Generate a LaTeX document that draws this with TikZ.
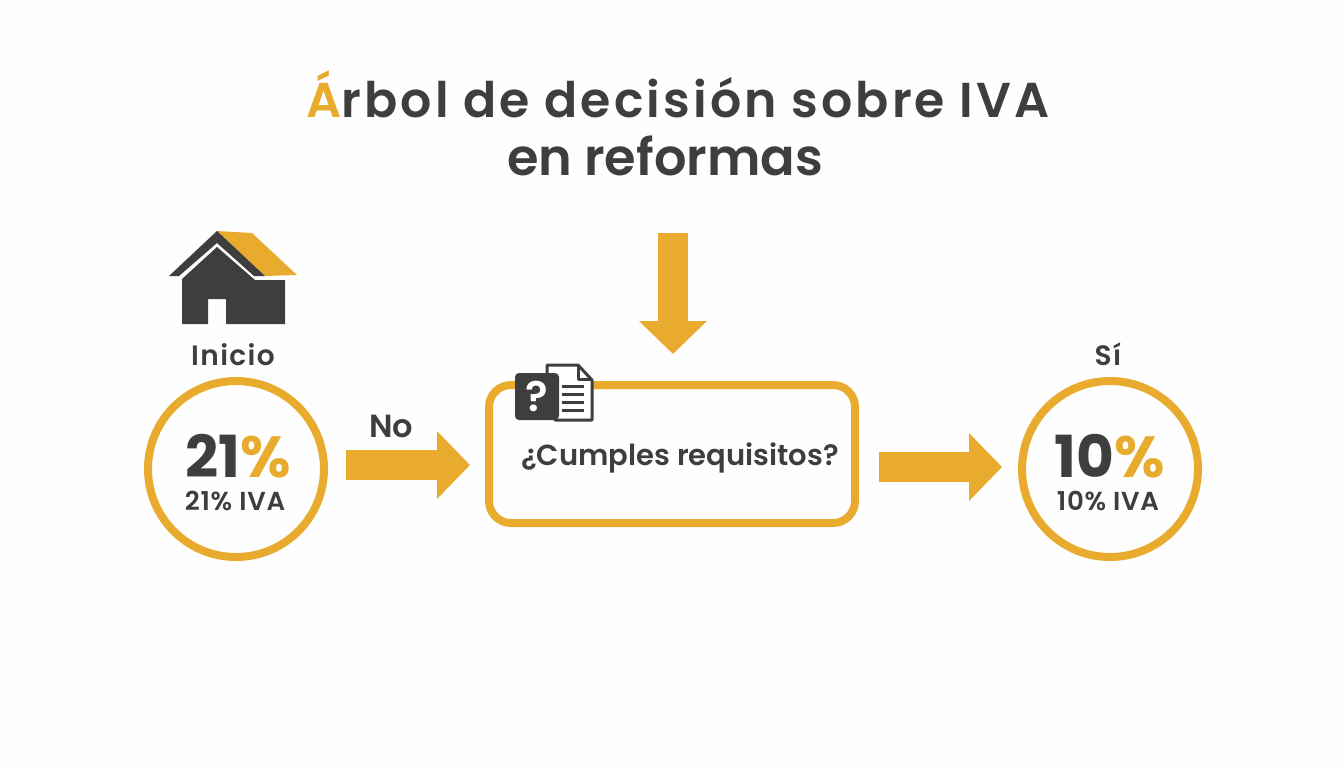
\documentclass[tikz,border=0pt]{standalone}
\usepackage{fontspec}
\setmainfont{Poppins}[BoldFont={Poppins SemiBold}]
\newfontfamily\heavyfont{Poppins Bold}
\usetikzlibrary{arrows.meta}
\definecolor{ivaorange}{HTML}{E8AB2E}
\definecolor{ivadark}{HTML}{3F3E3E}
\definecolor{ivapaper}{HTML}{FEFEFE}
\tikzset{
  x=0.5pt,y=-0.5pt,
  label/.style={text=ivadark,font=\bfseries\fontsize{#1}{#1}\selectfont,anchor=base,inner sep=0pt,text depth=0pt},
  ring/.style={circle,draw=ivaorange,line width=4pt,minimum size=88pt,inner sep=0pt},
  blockarrow/.style={draw=ivaorange,line width=15pt,-{Triangle[length=16.5pt,width=33pt,fill=ivaorange]}},
}
\newcommand{\spaced}[1]{\addfontfeatures{LetterSpace=#1}}
\begin{document}
\begin{tikzpicture}
  \useasboundingbox[fill=ivapaper] (0,0) rectangle (1344,768);
  \node[label=24.5] (title1) at (678,117) {\spaced{6.3}\textcolor{ivaorange}{Á}rbol de decisión sobre IVA};
  \node[label=25.5] (title2) at (665,175) {en reformas};
  % house
  \fill[ivaorange] (217,231) -- (252,233) -- (297,275) -- (265,276) -- cycle;
  \fill[ivadark] (217,231) -- (169,276) -- (179,276) -- (217,243) -- (254,276) -- (265,276) -- cycle;
  \fill[ivadark] (217,247) -- (182,279) -- (182,324) -- (208,324) -- (208,299) -- (226,299)
    -- (226,324) -- (285,324) -- (285,280) -- (255,280) -- cycle;
  \node[label=14] (inicio) at (233,365) {\spaced{5}Inicio};
  \node[label=14] (si) at (1108,365) {\spaced{5}Sí};
  \node[ring] (circ21) at (236,469) {};
  \node[ring] (circ10) at (1110,469) {};
  \node[label=29] (big21) at (238,477) {\mdseries\heavyfont 21\textcolor{ivaorange}{\%}};
  \node[label=29] (big10) at (1110,477) {\mdseries\heavyfont 10\textcolor{ivaorange}{\%}};
  \node[label=13] (iva21) at (235,510) {\spaced{3}21\% IVA};
  \node[label=13] (iva10) at (1108,510) {\spaced{3}10\% IVA};
  \node[draw=ivaorange,line width=4pt,rounded corners=11pt,minimum width=183pt,minimum height=69pt,inner sep=0pt] (box) at (672,454) {};
  \node[label=14.5] (pregunta) at (680,465) {¿Cumples requisitos?};
  % document icon
  \filldraw[draw=ivadark,fill=white,line width=1.5pt,line join=round] (547,372) -- (547,365) -- (578,365) -- (592,380) -- (592,420) -- (555,420) -- cycle;
  \draw[ivadark,line width=1.5pt,line join=round] (578,365) -- (578,379) -- (592,379);
  \foreach \y in {386,394,402,410}
    \draw[ivadark,line width=1.5pt] (562,\y) -- (584,\y);
  \node[fill=ivadark,rounded corners=2pt,minimum width=22pt,minimum height=23.5pt,inner sep=0pt,text=white,font=\bfseries\fontsize{21}{21}\selectfont] (duda) at (537,396.5) {?};
  \coordinate (entrada) at (673,233);
  \draw[blockarrow,shorten >=13.5pt] (entrada) -- (entrada |- box.north);
  \draw[blockarrow,shorten <=9pt,shorten >=7.5pt] ([yshift=2pt]circ21.east) -- ([yshift=-5.5pt]box.west);
  \draw[blockarrow,shorten <=10pt,shorten >=8pt] ([yshift=-6.5pt]box.east) -- ([yshift=1pt]circ10.west);
  \node[label=16] (no) at (391,437) {No};
\end{tikzpicture}
\end{document}
